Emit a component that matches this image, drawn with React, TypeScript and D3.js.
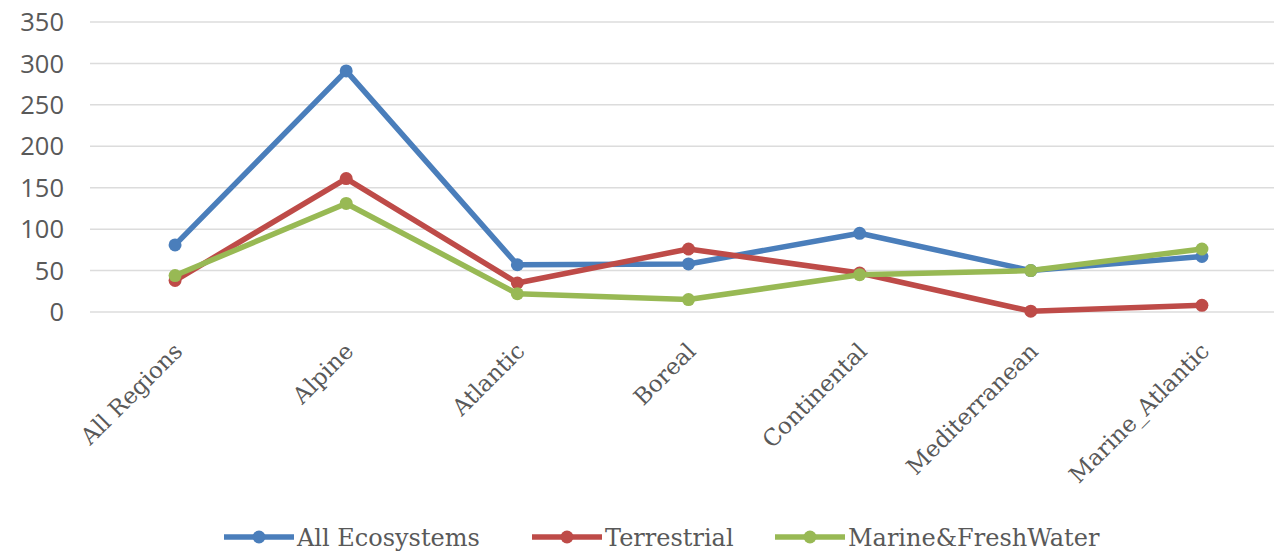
import React from "react";
import * as d3 from "d3";

const categories = ["All Regions", "Alpine", "Atlantic", "Boreal", "Continental", "Mediterranean", "Marine_Atlantic"];
const allEcosystems = [81, 291, 57, 58, 95, 50, 67];
const terrestrial = [38, 161, 35, 76, 47, 1, 8];
const marineFresh = [44, 131, 22, 15, 45, 50, 76];
const yTicks = [0, 50, 100, 150, 200, 250, 300, 350];
const seriesNames = ["All Ecosystems", "Terrestrial", "Marine&FreshWater"];

const W = 1274;
const H = 553;

export default function App() {
  const series = [
    { name: seriesNames[0], values: allEcosystems, color: "#4A7EBB" },
    { name: seriesNames[1], values: terrestrial, color: "#BE4B48" },
    { name: seriesNames[2], values: marineFresh, color: "#98B954" },
  ];
  const x = d3.scaleBand<string>().domain(categories).range([89.5, 1287.5]).padding(0);
  const cx = (c: string) => (x(c) as number) + x.bandwidth() / 2;
  const y = d3.scaleLinear().domain([0, 350]).range([312, 22]);
  const line = d3
    .line<number>()
    .x((_, i) => cx(categories[i]))
    .y((d) => y(d));
  const legendX = [224, 532, 775];
  const legendY = 537;
  const font = "'DejaVu Serif', serif";
  return (
    <svg width={W} height={H} style={{ position: "absolute", left: 0, top: 0, background: "#fff" }}>
      <g>
        {yTicks.map((t) => (
          <line key={t} x1={90} x2={W} y1={y(t)} y2={y(t)} stroke="#dcdcdc" strokeWidth={1.5} />
        ))}
        {yTicks.map((t) => (
          <text
            key={"l" + t}
            x={64}
            y={y(t)}
            dy="0.36em"
            textAnchor="end"
            fontFamily="'Open Sans', sans-serif"
            fontSize={25.5}
            fill="#595959"
          >
            {t}
          </text>
        ))}
      </g>
      <g>
        {categories.map((c) => (
          <text
            key={c}
            transform={`translate(${cx(c) + 3},347) rotate(-45)`}
            dy="0.35em"
            textAnchor="end"
            fontFamily={font}
            fontSize={23}
            fill="#595959"
          >
            {c}
          </text>
        ))}
      </g>
      {series.map((s) => (
        <g key={s.name}>
          <path d={line(s.values) || ""} fill="none" stroke={s.color} strokeWidth={5.5} strokeLinejoin="round" />
          {s.values.map((v, i) => (
            <circle key={i} cx={cx(categories[i])} cy={y(v)} r={6.5} fill={s.color} />
          ))}
        </g>
      ))}
      <g>
        {series.map((s, i) => (
          <g key={s.name} transform={`translate(${legendX[i]},${legendY})`}>
            <line x1={0} x2={70} y1={0} y2={0} stroke={s.color} strokeWidth={5.5} />
            <circle cx={35} cy={0} r={6.5} fill={s.color} />
            <text x={73} y={0} dy="0.36em" fontFamily={font} fontSize={24} fill="#595959">
              {s.name}
            </text>
          </g>
        ))}
      </g>
    </svg>
  );
}
